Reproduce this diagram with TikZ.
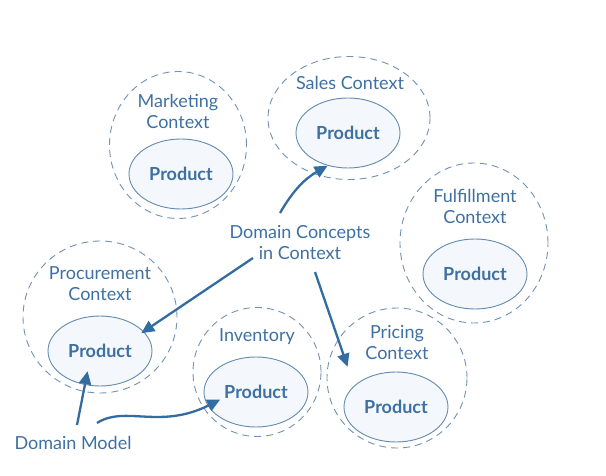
\documentclass[tikz,border=0pt]{standalone}
\usepackage{fontspec}
\setmainfont{Lato}
\usetikzlibrary{shapes.geometric,arrows.meta}

\definecolor{ctxblue}{RGB}{62,112,162}
\definecolor{arrowblue}{RGB}{50,108,160}
\definecolor{dashblue}{RGB}{112,146,180}
\definecolor{prodfill}{RGB}{244,247,251}
\definecolor{prodline}{RGB}{98,138,178}

\tikzset{
  ctx/.style={ellipse, draw=dashblue, line width=0.9pt, dash pattern=on 7pt off 5pt, inner sep=0pt},
  prod/.style={ellipse, draw=prodline, line width=0.9pt, fill=prodfill, minimum width=104pt, minimum height=70pt,
    inner sep=0pt, text=ctxblue, font=\fontsize{18}{21}\selectfont\bfseries},
  lbl/.style={text=ctxblue, align=center, inner sep=0pt, font=\fontsize{18}{21}\selectfont},
  link/.style={draw=arrowblue, line width=2.3pt, -{Triangle[length=13pt,width=12pt]}}
}

\begin{document}
\begin{tikzpicture}[x=1pt, y=-1pt]
  \useasboundingbox (0,0) rectangle (606,476);
  % contexts
  \node[ctx, minimum width=137pt, minimum height=147pt] (mkt) at (178,145) {};
  \node[ctx, minimum width=162pt, minimum height=123pt] (sales) at (349,118) {};
  \node[ctx, minimum width=154pt, minimum height=152pt] (proc) at (100,317) {};
  \node[ctx, minimum width=128pt, minimum height=129pt] (inv) at (257,372) {};
  \node[ctx, minimum width=148pt, minimum height=160pt] (ful) at (474,243) {};
  \node[ctx, minimum width=140pt, minimum height=140pt] (pri) at (397,378) {};
  % products
  \node[prod] (mkt-p) at (181,174) {Product};
  \node[prod] (sales-p) at (348,133) {Product};
  \node[prod] (proc-p) at (100,351) {Product};
  \node[prod] (inv-p) at (256,392) {Product};
  \node[prod] (ful-p) at (475,274) {Product};
  \node[prod] (pri-p) at (396,407) {Product};
  % labels
  \node[lbl] (mkt-l) at (178,111) {Marketing\\Context};
  \node[lbl] (sales-l) at (350,83) {Sales Context};
  \node[lbl] (proc-l) at (100,284) {Procurement\\Context};
  \node[lbl] (inv-l) at (257,337) {Inventory};
  \node[lbl] (ful-l) at (475,206) {Fulfillment\\Context};
  \node[lbl] (pri-l) at (397,343) {Pricing\\Context};
  \node[lbl] (dc) at (300,243) {Domain Concepts\\in Context};
  \node[lbl] (dm) at (73,443) {Domain Model};
  % arrow starts
  \coordinate (dc-a) at (280,213);
  \coordinate (dc-b) at (253,258);
  \coordinate (dc-c) at (315,272);
  \coordinate (dm-a) at (77,425);
  \coordinate (dm-b) at (97,423);
  % arrows
  \draw[link] (dc-a) to[bend left=15] (sales-p.238);
  \draw[link, shorten >=-3pt] (dc-b) -- (proc-p.24);
  \draw[link, shorten >=20pt] (dc-c) -- (pri-p.153);
  \draw[link, shorten >=-14pt] (dm-a) -- (proc-p.246);
  \draw[link, shorten >=-14pt] (dm-b) .. controls (125,405) and (160,430) .. (inv-p.196);
\end{tikzpicture}
\end{document}
